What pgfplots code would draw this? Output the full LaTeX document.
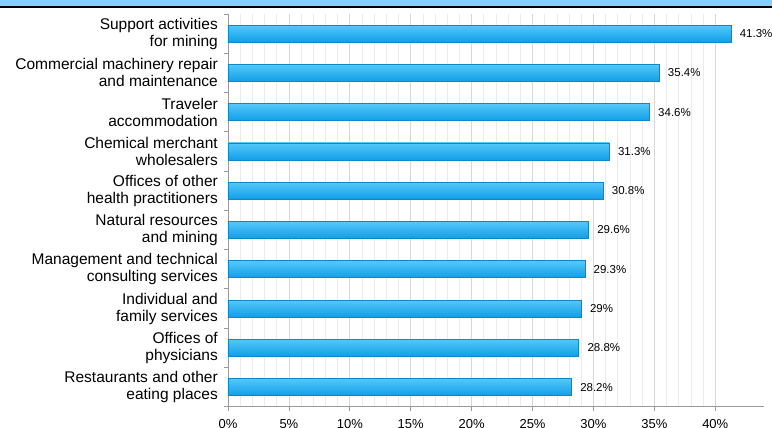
\documentclass[border=0pt]{standalone}
\usepackage{pgfplots}
\pgfplotsset{compat=1.18}
\usepackage{fontspec}
\setmainfont{Liberation Sans}
\definecolor{headblue}{HTML}{87CEFA}
\definecolor{bartop}{HTML}{55C8F8}
\definecolor{barbot}{HTML}{109EE8}
\definecolor{barline}{HTML}{0A88CC}
\definecolor{axisgray}{HTML}{9A9A9A}
\definecolor{majgrid}{HTML}{D8D8D8}
\definecolor{mingrid}{HTML}{EBEBEB}
\pgfplotsset{
  mybar/.style={xbar, bar width=17pt, draw=barline, line width=0.8pt,
    top color=bartop, bottom color=barbot,
    point meta=x,
    nodes near coords={\pgfmathprintnumber{\pgfplotspointmeta}\%},
    every node near coord/.append style={font=\fontsize{11.5}{13}\selectfont, text=black, anchor=west, xshift=5pt}}
}
\begin{document}
\begin{tikzpicture}[x=1pt,y=1pt]
\fill[headblue] (0,421.5) rectangle (772,428);
\fill[black] (0,419.5) rectangle (772,422);
\begin{axis}[
  at={(228pt,21.3pt)}, anchor=south west,
  scale only axis, width=536pt, height=392.7pt,
  xmin=0, xmax=44, ymin=-0.5, ymax=9.5, y dir=reverse,
  axis x line*=bottom, axis y line*=left,
  axis line style={draw=axisgray, line width=0.8pt},
  /pgf/number format/assume math mode=true,
  xtick={0,5,10,15,20,25,30,35,40},
  xticklabels={0\%,5\%,10\%,15\%,20\%,25\%,30\%,35\%,40\%},
  minor x tick num=4,
  xmajorgrids, xminorgrids,
  major grid style={draw=majgrid, line width=0.8pt},
  minor grid style={draw=mingrid, line width=0.8pt},
  minor x tick style={draw=none},
  major x tick style={draw=axisgray, line width=0.8pt},
  ytick={0,1,2,3,4,5,6,7,8,9},
  yticklabels={
    {Support activities\\for mining},
    {Commercial machinery repair\\and maintenance},
    {Traveler\\accommodation},
    {Chemical merchant\\wholesalers},
    {Offices of other\\health practitioners},
    {Natural resources\\and mining},
    {Management and technical\\consulting services},
    {Individual and\\family services},
    {Offices of\\physicians},
    {Restaurants and other\\eating places}},
  major y tick style={draw=none},
  minor ytick={-0.5,0.5,1.5,2.5,3.5,4.5,5.5,6.5,7.5,8.5,9.5},
  minor y tick style={draw=axisgray, line width=0.8pt},
  tick align=outside,
  major tick length=4pt, minor tick length=4pt,
  yticklabel style={font=\fontsize{15.5}{17}\selectfont, align=right, inner sep=0pt, xshift=-6pt},
  xticklabel style={font=\fontsize{13}{15}\selectfont, yshift=-5.5pt},
  clip=false,
]
\addplot[mybar] coordinates {(41.3,0)};
\addplot[mybar] coordinates {(35.4,1)};
\addplot[mybar] coordinates {(34.6,2)};
\addplot[mybar] coordinates {(31.3,3)};
\addplot[mybar] coordinates {(30.8,4)};
\addplot[mybar] coordinates {(29.6,5)};
\addplot[mybar] coordinates {(29.3,6)};
\addplot[mybar] coordinates {(29,7)};
\addplot[mybar] coordinates {(28.8,8)};
\addplot[mybar] coordinates {(28.2,9)};
\end{axis}
\pgfresetboundingbox
\path[use as bounding box] (0,0) rectangle (772,428);
\end{tikzpicture}
\end{document}
